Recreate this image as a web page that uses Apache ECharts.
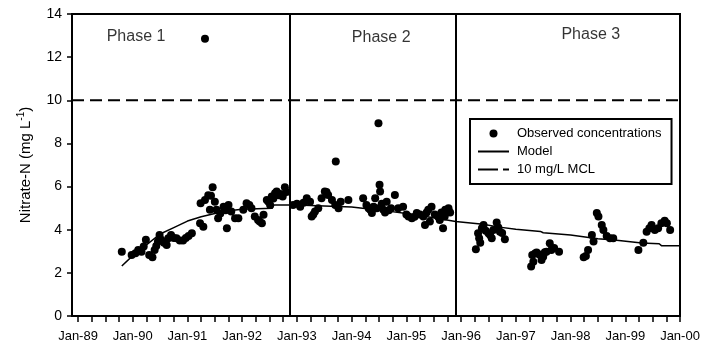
<!DOCTYPE html>
<html>
<head>
<meta charset="utf-8">
<script src="https://cdn.jsdelivr.net/npm/echarts@6/dist/echarts.min.js"></script>
<style>html,body{margin:0;padding:0;background:#fff}#c{width:717px;height:345px}</style>
</head>
<body>
<div id="c"></div>
<script>
// Observed concentrations (decimal year, mg/L)
var obsYear = [
1989.80,1989.98,1990.05,1990.10,1990.16,1990.20,1990.24,1990.30,1990.36,1990.40,1990.43,1990.46,1990.49,1990.52,1990.57,1990.62,1990.65,1990.70,1990.75,1990.80,1990.86,1990.92,1990.97,1991.02,1991.08,
1991.23,1991.24,1991.29,1991.32,1991.32,1991.38,1991.41,1991.43,1991.46,1991.50,1991.53,1991.56,1991.60,1991.66,1991.70,1991.72,1991.75,1991.80,1991.87,1991.93,
1992.02,1992.08,1992.13,1992.17,1992.23,1992.29,1992.32,1992.36,1992.39,1992.45,1992.48,1992.51,1992.54,1992.57,1992.60,1992.63,1992.67,1992.70,1992.74,1992.78,1992.81,
1992.93,1993.00,1993.06,1993.12,1993.18,1993.24,1993.27,1993.30,1993.33,1993.39,1993.45,1993.51,1993.54,1993.57,1993.64,1993.70,1993.71,1993.76,1993.80,1993.94,
1994.21,1994.27,1994.31,1994.34,1994.37,1994.40,1994.43,1994.46,1994.49,1994.51,1994.52,1994.55,1994.58,1994.61,1994.64,1994.68,1994.72,1994.79,1994.85,1994.94,
1995.00,1995.04,1995.10,1995.15,1995.19,1995.25,1995.31,1995.34,1995.37,1995.40,1995.43,1995.46,1995.52,1995.58,1995.61,1995.64,1995.67,1995.70,1995.71,1995.77,1995.80,
1996.27,1996.31,1996.33,1996.35,1996.38,1996.41,1996.45,1996.50,1996.53,1996.56,1996.59,1996.65,1996.68,1996.71,1996.75,1996.80,
1997.28,1997.32,1997.30,1997.35,1997.38,1997.43,1997.47,1997.50,1997.53,1997.56,1997.62,1997.65,1997.70,1997.79,
1998.24,1998.28,1998.32,1998.39,1998.42,1998.48,1998.51,1998.57,1998.60,1998.66,1998.72,1998.78,
1999.24,1999.33,1999.39,1999.44,1999.48,1999.54,1999.60,1999.66,1999.72,1999.76,1999.82
];
var obsValue = [
2.98,2.83,2.91,3.06,2.98,3.22,3.53,2.83,2.72,3.06,3.25,3.45,3.76,3.53,3.40,3.29,3.60,3.76,3.62,3.60,3.50,3.50,3.62,3.71,3.84,
4.30,5.23,4.14,5.38,12.85,5.60,4.92,5.57,5.97,5.30,4.92,4.53,4.75,5.07,4.90,4.07,5.15,4.85,4.53,4.53,
4.92,5.23,5.15,5.00,4.61,4.45,4.38,4.30,4.69,5.38,5.30,5.15,5.54,5.45,5.69,5.77,5.60,5.65,5.54,5.97,5.75,
5.15,5.20,5.07,5.25,5.46,5.30,4.61,4.70,4.84,5.00,5.46,5.77,5.75,5.61,5.38,5.15,7.16,5.00,5.30,5.38,
5.46,5.15,5.00,4.92,4.77,5.07,5.46,5.00,8.94,6.08,5.77,5.20,4.92,4.80,5.30,4.90,5.00,5.61,5.00,5.07,
4.70,4.61,4.53,4.60,4.77,4.70,4.61,4.22,4.80,4.92,4.38,5.07,4.70,4.60,4.45,4.80,4.07,4.61,4.92,5.00,4.80,
3.09,3.84,3.60,3.40,4.07,4.22,3.95,3.84,3.75,3.60,3.99,4.33,4.10,3.91,3.85,3.56,
2.29,2.52,2.83,2.90,2.94,2.85,2.60,2.75,2.95,2.98,3.37,3.06,3.15,2.98,
2.72,2.78,3.06,3.76,3.45,4.77,4.61,4.22,3.99,3.71,3.60,3.60,
3.06,3.40,3.91,4.07,4.22,3.99,4.07,4.30,4.42,4.30,3.99
];
// Model
var modelYear = [1989.80,1990.00,1990.25,1990.50,1990.75,1991.00,1991.25,1991.50,1991.75,1992.00,1992.55,1992.58,1993.00,1993.50,1994.00,1994.20,1994.50,1994.70,1995.00,1995.50,1995.90,1996.40,1996.70,1997.00,1997.45,1997.50,1998.00,1998.50,1998.80,1999.30,1999.62,1999.66,2000.00];
var modelValue = [2.32,2.80,3.30,3.80,4.10,4.40,4.60,4.75,4.88,4.95,5.00,5.15,5.15,5.10,5.05,5.00,4.92,4.85,4.75,4.55,4.38,4.25,4.12,4.02,3.92,3.86,3.75,3.58,3.52,3.38,3.35,3.26,3.26];
// MCL
var mclValue = 10;
var xMin = 1988.89, xMax = 2000;
var phaseBoundaries = [1992.87, 1995.90];
var phaseNames = ['Phase 1', 'Phase 2', 'Phase 3'];
var phaseLabelX = [1990.06, 1994.54, 1998.37];
var phaseLabelY = [12.95, 12.90, 13.05];
var yearTicks = [1989,1990,1991,1992,1993,1994,1995,1996,1997,1998,1999,2000];
var yTicks = [0,2,4,6,8,10,12,14];

var quarterTicks = [];
for (var i = 0; i < yearTicks.length; i++) {
  quarterTicks.push(yearTicks[i]);
  if (i < yearTicks.length - 1) { quarterTicks.push(yearTicks[i] + 0.25, yearTicks[i] + 0.5, yearTicks[i] + 0.75); }
}
var FONT = 'Liberation Sans, Arial, sans-serif';

var obsData = obsYear.map(function (x, i) { return [x, obsValue[i]]; });
var modelData = modelYear.map(function (x, i) { return [x, modelValue[i]]; });
var phaseData = phaseNames.map(function (n, i) { return { name: n, value: [phaseLabelX[i], phaseLabelY[i]] }; });

var chart = echarts.init(document.getElementById('c'), null, { renderer: 'canvas' });
chart.setOption({
  animation: false,
  backgroundColor: '#fff',
  textStyle: { fontFamily: FONT, color: '#000' },
  grid: { left: 72, right: 37, top: 14, bottom: 29, show: true, borderColor: '#000', borderWidth: 2, backgroundColor: 'transparent' },
  legend: {
    orient: 'vertical', left: 470, top: 119,
    data: [
      { name: 'Observed concentrations', icon: 'circle', itemStyle: { color: '#000', opacity: 1 } },
      { name: 'Model', itemStyle: { opacity: 0 } },
      { name: '10 mg/L MCL', itemStyle: { opacity: 0 }, lineStyle: { type: [20, 5], width: 2 } }
    ],
    itemWidth: 31, itemHeight: 8, itemGap: 5,
    padding: [8, 10, 8, 7],
    borderColor: '#000', borderWidth: 2, backgroundColor: '#fff',
    textStyle: { fontSize: 13, color: '#000', fontFamily: FONT, padding: [0, 0, 0, 3] }
  },
  xAxis: {
    type: 'value', min: xMin, max: xMax,
    splitLine: { show: false },
    axisLine: { lineStyle: { color: '#000', width: 2 } },
    axisTick: { show: true, inside: false, length: 6, lineStyle: { color: '#000', width: 1.5 }, customValues: quarterTicks },
    axisLabel: {
      customValues: yearTicks, margin: 14, fontSize: 13, color: '#000', fontFamily: FONT,
      formatter: function (v) { var y = Math.round(v) % 100; return 'Jan-' + (y < 10 ? '0' + y : y); }
    }
  },
  yAxis: {
    type: 'value', min: 0, max: 14, interval: 2,
    splitLine: { show: false },
    axisLine: { show: true, lineStyle: { color: '#000', width: 2 } },
    axisTick: { show: true, inside: false, length: 5, lineStyle: { color: '#000', width: 1.5 } },
    axisLabel: { margin: 10, fontSize: 14, color: '#000', fontFamily: FONT },
    name: '{a|Nitrate-N (mg L}{b|-1}{a|)}',
    nameLocation: 'middle', nameGap: 37,
    nameTextStyle: {
      rich: {
        a: { fontSize: 15, color: '#000', fontFamily: FONT },
        b: { fontSize: 10, color: '#000', fontFamily: FONT, padding: [0, 0, 9, 0] }
      }
    }
  },
  series: [
    {
      name: 'Observed concentrations', type: 'scatter', data: obsData,
      symbol: 'circle', symbolSize: 8, itemStyle: { color: '#000', opacity: 1 }, z: 3
    },
    {
      name: 'Model', type: 'line', data: modelData, symbol: 'none',
      lineStyle: { color: '#000', width: 1.5 }, itemStyle: { color: '#000' }, z: 2,
      markLine: {
        silent: true, symbol: ['none', 'none'], label: { show: false },
        lineStyle: { color: '#000', width: 2, type: 'solid' },
        data: phaseBoundaries.map(function (b) { return { xAxis: b }; })
      }
    },
    {
      name: '10 mg/L MCL', type: 'line', data: [[xMin, mclValue], [xMax, mclValue]], symbol: 'none',
      lineStyle: { color: '#000', width: 2, type: [12, 6] }, itemStyle: { color: '#000' }, z: 2
    },
    {
      name: 'phases', type: 'scatter', data: phaseData, symbolSize: 0, silent: true,
      label: { show: true, position: 'inside', formatter: '{b}', fontSize: 16, color: '#000', fontFamily: FONT }
    }
  ]
});
</script>
</body>
</html>
